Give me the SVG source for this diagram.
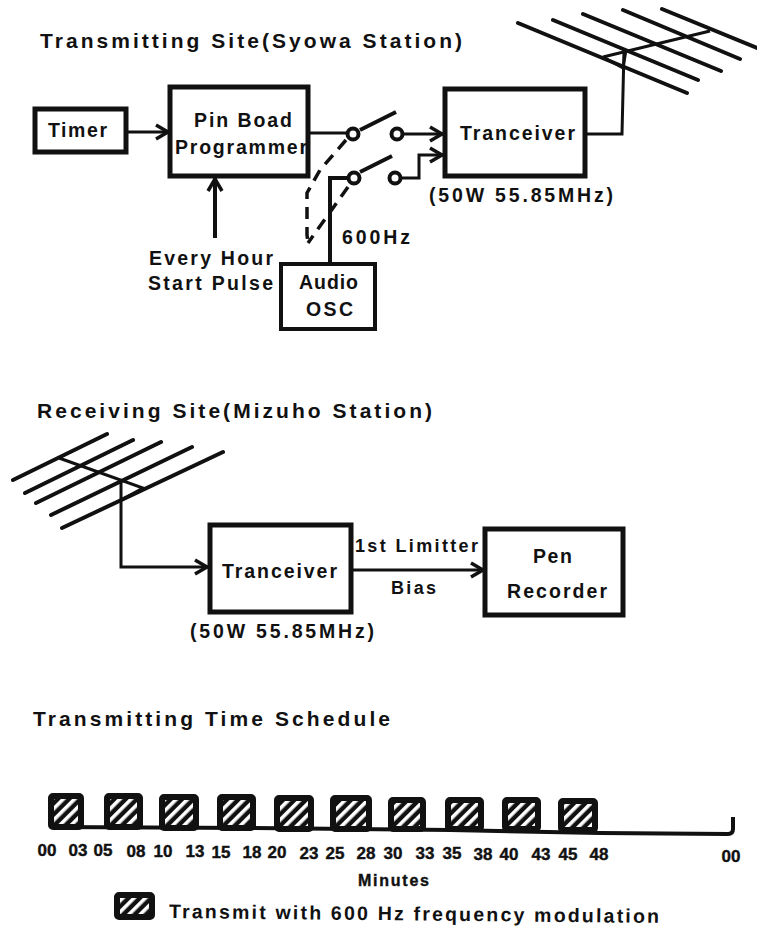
<svg xmlns="http://www.w3.org/2000/svg" width="757" height="930" viewBox="0 0 757 930">
<style>
text{font-family:"Liberation Sans",Arial,sans-serif;font-weight:bold;fill:#111;font-size:19.5px}
.h1{font-size:21px}
.box{fill:none;stroke:#111;stroke-width:4}
.bx{fill:none;stroke:#111;stroke-width:5}
.ln{fill:none;stroke:#111;stroke-width:3}
.ant{fill:none;stroke:#111;stroke-width:4;stroke-linecap:round}
.thin{fill:none;stroke:#111;stroke-width:3}
.dash{fill:none;stroke:#111;stroke-width:3.5;stroke-dasharray:12 8}
.blade{fill:none;stroke:#111;stroke-width:4}
.sw{fill:#fff;stroke:#111;stroke-width:4}
.h{fill:url(#hatch);stroke:#111;stroke-width:6;stroke-linejoin:round}
.t{font-size:17px;text-anchor:middle;stroke:#111;stroke-width:.4}
</style>
<defs>
<pattern id="hatch" width="8" height="8" patternUnits="userSpaceOnUse" patternTransform="rotate(45)">
<rect width="8" height="8" fill="#111"/><rect x="0" width="3.6" height="8" fill="#fff"/>
</pattern>
<marker id="a" markerWidth="20" markerHeight="20" refX="16" refY="10" orient="auto" markerUnits="userSpaceOnUse">
<path d="M3 3L15 10L3 17" fill="none" stroke="#111" stroke-width="3.5"/>
</marker>
</defs>

<g id="connectors">
<path class="ln" marker-end="url(#a)" d="M128 132H169"/>
<path class="ln" style="stroke-width:4" marker-end="url(#a)" d="M215 238V178"/>
<path class="ln" d="M310 133H347"/>
<path class="ln" marker-end="url(#a)" d="M404 134H443"/>
<path class="ln" style="stroke-width:4" d="M330 262V178H347"/>
<path class="ln" marker-end="url(#a)" d="M401 178H419V155H443"/>
<path class="blade" d="M360 130L396 112"/>
<path class="blade" d="M360 172L392 156"/>
<path class="dash" d="M346 140L320 170L307 193V235L308 243"/>
<path class="dash" d="M348 187L333 208L308 243"/>
<path class="ln" d="M587 134H622L624 50"/>
<path class="ln" marker-end="url(#a)" d="M121 482V567H208"/>
<path class="ln" marker-end="url(#a)" d="M352 570H484"/>
</g>

<g id="antenna-tx">
<path class="ant" d="M518 23L687 93M553 20L698 80M583 14L721 71M623 10L740 59M662 9L757 48"/>
<path class="thin" d="M603 57L710 31M603 57L623 68L626 50"/>
</g>
<g id="antenna-rx">
<path class="ant" d="M13 480L107 434M25 493L133 440M36 503L161 442M51 515L192 447M62 528L223 452"/>
<path class="thin" d="M59 458L143 488L121 500"/>
</g>

<g id="switch-contacts">
<circle class="sw" cx="353" cy="134" r="5.5"/><circle class="sw" cx="397" cy="134" r="5.5"/>
<circle class="sw" cx="354" cy="178" r="5.5"/><circle class="sw" cx="395" cy="178" r="5.5"/>
</g>

<text class="h1" x="40" y="48" textLength="422">Transmitting Site(Syowa Station)</text>
<g id="timer"><rect class="bx" x="35" y="109" width="91" height="43"/><text x="48" y="137" textLength="59">Timer</text></g>
<g id="programmer"><rect class="bx" x="170" y="87" width="138" height="89"/><text x="194" y="127" textLength="98">Pin Boad</text><text x="175" y="154" textLength="132">Programmer</text></g>
<g id="tx-tranceiver"><rect class="bx" x="445" y="89" width="140" height="87"/><text x="460" y="140" textLength="115">Tranceiver</text><text x="429" y="202" textLength="184">(50W 55.85MHz)</text></g>
<g id="audio-osc"><rect class="box" x="281" y="264" width="94" height="65"/><text x="299" y="289" textLength="59">Audio</text><text x="306" y="316" textLength="47">OSC</text></g>
<text x="149" y="265" textLength="124">Every Hour</text>
<text x="148" y="290" textLength="125">Start Pulse</text>
<text x="342" y="244" textLength="68">600Hz</text>

<text class="h1" x="37" y="418" textLength="395">Receiving Site(Mizuho Station)</text>
<g id="rx-tranceiver"><rect class="bx" x="210" y="525" width="141" height="87"/><text x="222" y="578" textLength="115">Tranceiver</text><text x="190" y="638" textLength="184">(50W 55.85MHz)</text></g>
<g id="pen-recorder"><rect class="bx" x="485" y="529" width="138" height="86"/><text x="533" y="563" textLength="39">Pen</text><text x="507" y="598" textLength="100">Recorder</text></g>
<text x="355" y="552" textLength="123" style="font-size:18px">1st Limitter</text>
<text x="391" y="594" textLength="45" style="font-size:18px">Bias</text>

<text class="h1" x="33" y="726" textLength="357">Transmitting Time Schedule</text>
<g id="schedule">
<path class="ln" style="stroke-width:4" d="M50 827L250 828L450 830L600 833L728 834Q733 834 733 829V817"/>
<rect class="h" x="51" y="796" width="30" height="31" rx="2"/>
<rect class="h" x="107" y="796" width="33" height="31" rx="2"/>
<rect class="h" x="162" y="797" width="34" height="31" rx="2"/>
<rect class="h" x="220" y="797" width="33" height="31" rx="2"/>
<rect class="h" x="277" y="798" width="34" height="31" rx="2"/>
<rect class="h" x="333" y="798" width="36" height="31" rx="2"/>
<rect class="h" x="391" y="800" width="32" height="29" rx="2"/>
<rect class="h" x="448" y="800" width="33" height="29" rx="2"/>
<rect class="h" x="505" y="800" width="33" height="29" rx="2"/>
<rect class="h" x="561" y="801" width="34" height="29" rx="2"/>
</g>
<g id="schedule-labels">
<text class="t" x="47" y="856">00</text><text class="t" x="78" y="856">03</text><text class="t" x="103" y="856">05</text><text class="t" x="136" y="857">08</text><text class="t" x="163" y="857">10</text><text class="t" x="195" y="857">13</text><text class="t" x="221" y="858">15</text><text class="t" x="252" y="858">18</text><text class="t" x="277" y="858">20</text><text class="t" x="309" y="859">23</text><text class="t" x="335" y="859">25</text><text class="t" x="366" y="859">28</text><text class="t" x="393" y="859">30</text><text class="t" x="425" y="859">33</text><text class="t" x="452" y="859">35</text><text class="t" x="483" y="860">38</text><text class="t" x="509" y="860">40</text><text class="t" x="541" y="860">43</text><text class="t" x="568" y="860">45</text><text class="t" x="599" y="860">48</text><text class="t" x="731" y="862">00</text>
<text x="358" y="886" textLength="71" style="font-size:16px;stroke:#111;stroke-width:.4">Minutes</text>
</g>
<g id="legend"><rect class="h" x="117" y="895" width="35" height="22" rx="2"/><text x="169" y="918" textLength="490" transform="rotate(0.58 169 918)">Transmit with 600 Hz frequency modulation</text></g>
</svg>
